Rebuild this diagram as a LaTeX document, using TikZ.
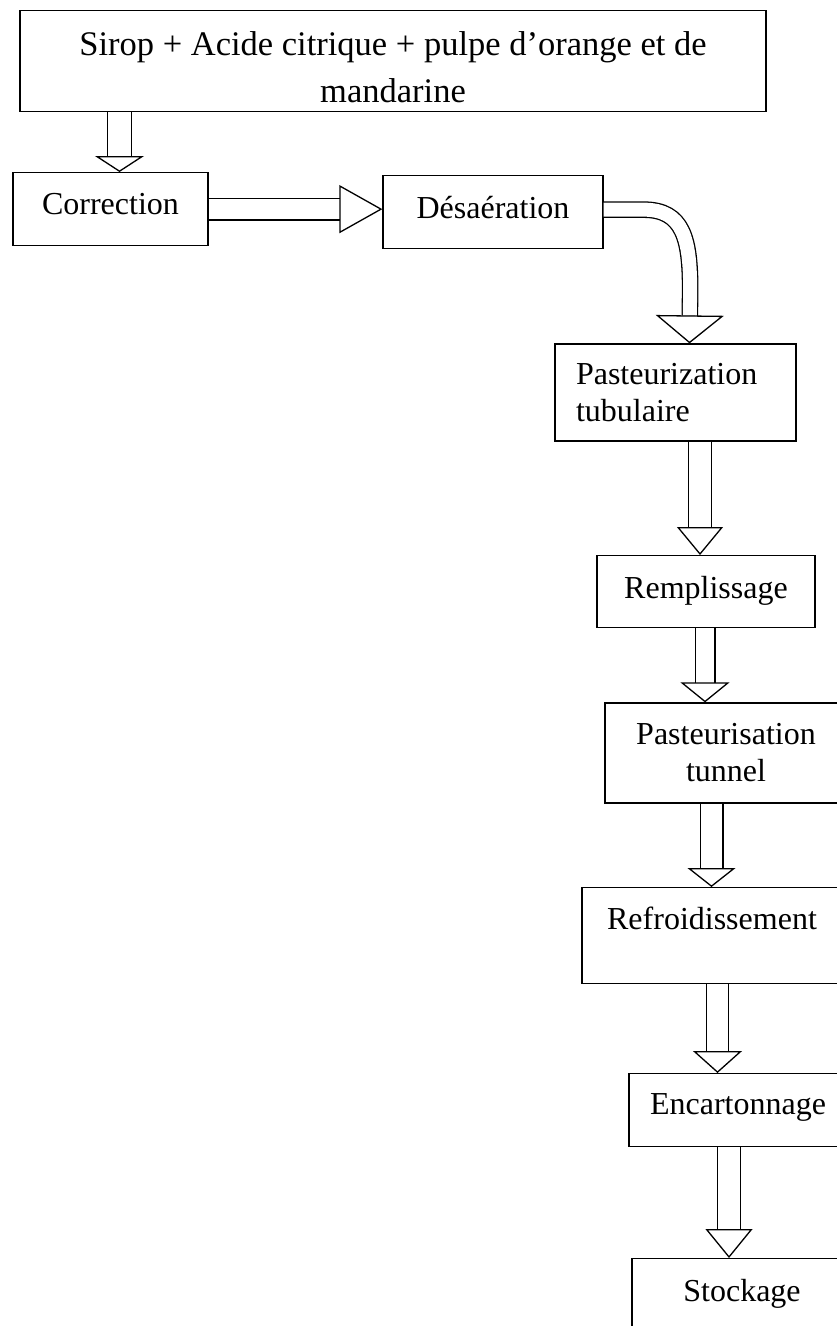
\documentclass[tikz,border=0pt]{standalone}
\usepackage{fontspec}
\setmainfont{Liberation Serif}
\usetikzlibrary{arrows.meta,calc}

\tikzset{
  box/.style={draw, line width=1.3pt, inner sep=0pt, font=\fontsize{32}{37}\selectfont},
  flow/.style n args={3}{draw, line width=1.3pt, double, double distance=#1,
    -{Triangle[fill=white, width=#2, length=#3, line width=1.3pt 0 0]}},
}

\begin{document}
\begin{tikzpicture}[x=1pt,y=1pt,yscale=-1,xscale=1]
\useasboundingbox (0,0) rectangle (837,1326);
\clip (0,0) rectangle (837,1326);

% Boxes
\node[box, anchor=north, minimum width=746pt, text height=92pt, text depth=9pt, align=center, font=\fontsize{34.5}{47}\selectfont] (src) at (393,10) {Sirop + Acide citrique + pulpe d’orange et de\\mandarine};
\node[box, anchor=north, minimum width=195pt, text height=42pt, text depth=31pt] (corr) at (110.5,172) {Correction};
\node[box, anchor=north, minimum width=220pt, text height=43pt, text depth=30pt] (desa) at (493,175) {Désaération};
\node[box, minimum height=97pt, inner xsep=21pt, text width=199pt, align=left] (ptub) at (675.5,392.5) {Pasteurization\\tubulaire};
\node[box, anchor=north, minimum width=218pt, text height=43pt, text depth=29pt] (rempl) at (706,555) {Remplissage};
\node[box, minimum width=242pt, minimum height=100pt, align=center] (ptun) at (726,753) {Pasteurisation\\tunnel};
\node[box, anchor=north, minimum width=260pt, text height=42pt, text depth=54pt] (refr) at (712,887) {Refroidissement};
\node[box, anchor=north, minimum width=218pt, text height=41pt, text depth=32pt] (encart) at (738,1073) {Encartonnage};
\node[box, anchor=north, minimum width=220pt, text height=43pt, text depth=30pt] (stock) at (742,1258) {Stockage};

% Block arrows
\draw[flow={22.4pt}{49pt}{16pt}] ([xshift=-273.5pt]src.south) -- ([xshift=9pt]corr.north);
\draw[flow={20.4pt}{48pt}{43pt}] (corr.east) -- ($(desa.west)+(0,-3)$);
\draw[flow={14pt}{68pt}{28pt}] ($(desa.east)+(0,-2.5)$) -- ++(40,0) .. controls +(40,0) and +(0,-50) .. ++(46.5,80) -- ([xshift=14pt]ptub.north);
\draw[flow={21.4pt}{46pt}{28pt}] ([xshift=24.5pt]ptub.south) -- ([xshift=-6pt]rempl.north);
\draw[flow={18.4pt}{49pt}{20pt}] ([xshift=-1pt]rempl.south) -- ([xshift=-21pt]ptun.north);
\draw[flow={21.4pt}{48pt}{19pt}] ([xshift=-14.5pt]ptun.south) -- ([xshift=-0.5pt]refr.north);
\draw[flow={20.4pt}{49pt}{22pt}] ([xshift=5.5pt]refr.south) -- ([xshift=-20.5pt]encart.north);
\draw[flow={21.4pt}{47pt}{29pt}] ([xshift=-9pt]encart.south) -- ([xshift=-13pt]stock.north);

\end{tikzpicture}
\end{document}
